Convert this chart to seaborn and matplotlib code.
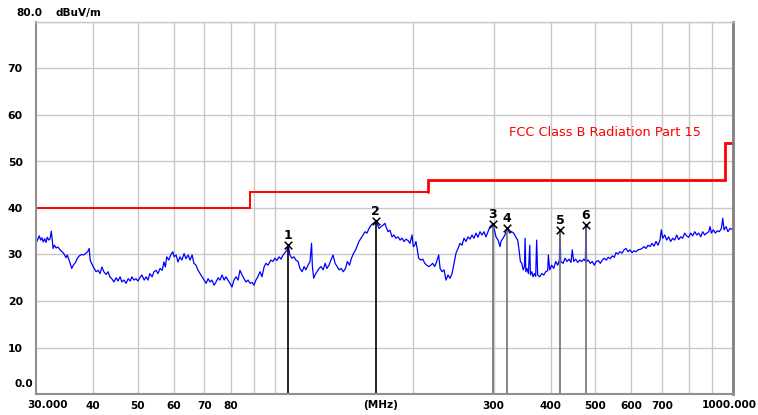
import numpy as np
import pandas as pd
import matplotlib
matplotlib.use("Agg")
import matplotlib.pyplot as plt
from matplotlib.ticker import NullLocator
import seaborn as sns

# Leitura do espectro (MHz, dBuV/m)
trace_mhz = [
    30.0, 30.3, 30.5, 30.7, 30.9, 31.1, 31.35, 31.55, 31.75, 32.0, 32.2, 32.4, 32.7, 32.9,
    33.2, 33.5, 33.8, 34.2, 34.5, 34.9, 35.1, 35.5, 35.9, 36.2, 36.6, 36.9, 37.3, 37.7,
    38.1, 38.5, 38.9, 39.2, 39.4, 39.8, 40.2, 40.6, 41.0, 41.4, 41.8, 42.2, 42.7, 43.1,
    43.5, 44.0, 44.4, 44.9, 45.3, 45.8, 46.2, 46.7, 47.2, 47.7, 48.2, 48.6, 49.1, 49.6,
    50.1, 50.6, 51.1, 51.7, 52.2, 52.7, 53.2, 53.8, 54.3,
    54.9, 55.4, 56.0, 56.6, 57.1, 57.5, 57.9, 58.5, 59.1, 59.7, 60.1, 60.7, 61.3, 61.9,
    62.5, 63.2, 63.8, 64.5, 65.1, 65.8, 66.4, 67.1, 67.8, 68.5, 69.2, 69.9, 70.6, 71.3,
    72.0, 72.7, 73.5, 74.2, 75.0, 75.7, 76.5, 77.3, 78.0, 78.8, 79.6, 80.4, 81.2, 82.1,
    82.9, 83.7, 84.6, 85.4, 86.3, 87.2, 88.1, 89.0, 89.8, 90.7, 91.6, 92.6, 93.5, 94.5,
    95.4, 96.4, 97.3,
    97.8, 98.8, 99.8, 100.8, 101.9, 102.9, 104.0, 105.0, 106.1, 106.7, 107.6, 108.7,
    109.8, 110.9, 112.1, 113.2, 114.4, 115.6, 116.6, 117.9, 119.1, 120.0, 120.5, 121.3,
    122.1, 123.3, 124.6, 125.9, 127.2, 128.5, 129.6, 131.0, 132.3, 133.7, 135.1, 136.5,
    137.9, 139.3, 140.8, 142.3, 143.7, 145.2, 146.7, 148.3, 149.8, 150.8, 152.3, 153.9,
    155.5, 157.1, 158.6, 160.2, 161.9, 163.5, 165.6, 166.8, 168.5, 170.2, 171.9, 173.6,
    174.5, 176.3, 178.1, 179.9, 181.7, 183.5, 185.4, 187.3, 189.2, 191.1, 193.0, 195.0,
    196.9, 198.9, 200.2, 201.6, 202.9, 204.3, 205.7, 207.8, 210.0, 212.1, 214.2, 216.4,
    218.6, 220.8, 223.0, 225.2, 227.5, 229.1, 231.4, 233.7, 236.0, 238.4, 240.8, 243.3,
    245.7, 248.2, 250.7, 253.2, 255.8, 258.4, 261.0, 263.6, 266.3, 269.0, 271.7, 274.4,
    277.2, 280.0, 282.8, 285.7, 288.6, 291.5, 294.5, 298.9, 300.5, 303.5, 306.6, 309.7,
    311.2, 314.3, 317.5, 320.8, 322.8, 325.1, 328.4, 331.8, 335.1, 338.5, 340.8, 343.1,
    345.6, 347.9, 350.2, 351.4, 352.6, 354.7, 357.2, 359.7, 360.9, 363.4, 365.7, 368.1,
    370.6, 372.4, 374.3, 378.2, 382.1, 386.0, 389.8, 393.6, 395.0, 397.7, 401.7, 405.8,
    409.8, 414.0, 417.5, 418.9, 420.3, 425.4, 429.5, 433.8, 438.2, 442.6, 445.5, 448.6,
    453.2, 457.8, 462.5, 467.2, 472.0, 475.8, 477.3, 478.8, 482.8, 487.7, 492.6, 497.6,
    502.6, 507.8, 512.9, 518.2, 523.4, 528.6, 534.0, 539.4, 544.8, 550.4,
    555.0, 560.6, 566.3, 572.1, 577.9, 583.7, 589.6, 595.6, 601.7, 607.7, 613.8, 620.1,
    626.4, 632.7, 639.1, 645.5, 652.1, 658.7, 665.4, 672.1, 678.8, 685.7, 692.6, 697.3,
    702.0, 709.3, 716.3, 723.6, 730.8, 738.2, 745.7, 753.3, 760.9, 768.6, 776.4, 784.2,
    792.2, 800.2, 808.3, 816.5, 824.8, 833.1, 841.6, 850.1, 858.7, 867.4, 876.1, 885.0,
    891.0, 897.0, 906.0, 915.0, 924.3, 933.7, 943.2, 949.6, 956.0, 965.3, 975.0, 984.9,
    995.0, 1000.0,
]
trace_dbuv = [
    32.4, 33.4, 34.0, 33.1, 33.6, 32.7, 33.4, 32.6, 33.7, 33.1, 33.4, 35.0, 31.3, 32.0,
    31.4, 31.6, 31.1, 30.6, 30.2, 29.3, 29.9, 28.6, 27.0, 27.7, 28.3, 29.1, 29.7, 30.0,
    29.9, 30.2, 30.6, 31.3, 28.8, 27.8, 27.0, 26.3, 26.6, 25.9, 27.3, 26.3, 25.7, 26.3,
    25.2, 24.7, 24.1, 25.0, 24.3, 25.2, 24.1, 24.5, 23.8, 24.8, 24.3, 25.2, 24.5, 24.8,
    24.3, 25.0, 25.6, 24.5, 25.2, 24.5, 25.9, 25.2, 26.3,
    26.6, 25.9, 27.0, 26.6, 28.4, 27.3, 29.5, 28.8, 29.9, 30.6, 29.5, 29.9, 28.4, 29.5,
    28.8, 30.2, 29.1, 29.9, 28.8, 29.9, 28.1, 27.7, 26.6, 25.9, 25.2, 24.5, 23.8, 24.8,
    24.1, 24.5, 23.4, 24.1, 25.0, 24.5, 25.6, 24.5, 25.2, 24.5, 23.8, 23.0, 24.5, 25.2,
    24.5, 26.6, 25.6, 24.8, 24.1, 24.5, 23.8, 24.0, 23.4, 24.5, 25.2, 26.3, 25.2, 27.3,
    28.1, 27.7, 28.4,
    28.8, 28.5, 29.2, 28.7, 29.5, 29.0, 29.9, 30.4, 31.0, 32.0, 29.9, 29.2,
    29.5, 28.8, 28.5, 27.0, 26.3, 27.4, 26.7, 27.7, 28.5, 32.4, 27.4, 24.9,
    25.6, 26.3, 27.0, 27.4, 26.7, 28.1, 27.0, 27.7, 28.8, 29.9, 28.1, 27.4,
    26.7, 27.0, 26.3, 27.0, 28.5, 27.7, 29.2, 30.3, 31.0, 31.7, 32.8, 33.5,
    34.2, 34.9, 34.6, 35.6, 36.3, 36.7, 37.1, 36.7, 35.6, 36.0, 36.3, 36.7,
    36.0, 34.9, 35.2, 33.8, 34.2, 33.5, 33.8, 33.1, 33.5, 32.8, 33.3, 33.0,
    32.4, 34.2, 31.7, 32.0, 32.8, 31.0, 29.2, 28.8, 29.0, 28.1, 27.7, 27.4,
    27.7, 28.1, 27.4, 28.5, 29.9, 27.0, 26.3, 26.7, 24.5, 25.6, 24.9, 25.9,
    28.1, 30.3, 31.3, 32.4, 32.0, 33.5, 32.8, 33.8, 33.3, 34.2, 33.5, 34.6,
    33.7, 34.9, 34.2, 34.9, 33.8, 34.9, 36.0, 36.6, 35.6, 33.8, 33.1, 31.7,
    32.8, 33.5, 34.2, 35.7, 35.2, 34.6, 34.9, 34.6, 33.8, 33.1, 31.0, 28.5,
    28.1, 26.7, 27.4, 33.5, 26.3, 27.0, 25.9, 32.0, 25.6, 26.3, 25.2, 25.9,
    25.3, 33.1, 25.6, 25.2, 25.9, 25.6, 26.3, 26.5, 29.9, 26.7, 27.7, 27.0,
    28.5, 27.7, 28.8, 35.3, 28.5, 28.1, 29.2, 28.5, 29.0, 28.3, 31.0, 28.5,
    29.0, 28.3, 28.8, 28.5, 29.0, 28.6, 36.3, 28.5, 28.8, 28.1, 28.5, 27.7,
    28.5, 28.7, 28.1, 28.8, 29.2, 28.8, 29.4, 29.1, 29.7, 29.4,
    30.4, 30.1, 30.6, 30.3, 31.0, 31.3, 30.6, 31.0, 30.4, 30.8, 30.6, 31.0,
    31.1, 31.3, 31.7, 31.3, 32.0, 31.7, 32.4, 31.8, 32.8, 32.0, 33.1, 35.3,
    33.5, 34.2, 33.1, 33.8, 32.8, 33.5, 33.1, 34.2, 33.2, 33.8, 33.5, 34.6,
    34.0, 33.7, 34.6, 34.0, 34.9, 34.2, 34.6, 33.8, 34.9, 34.2, 34.6, 34.9,
    36.0, 34.6, 35.3, 34.6, 35.1, 34.9, 35.6, 37.8, 35.3, 36.0, 34.9, 35.6,
    35.4, 35.6,
]

# Limite FCC Classe B (bordas das faixas e nivel de cada faixa)
limit_edges = [30, 88, 216, 960, 1000]
limit_level = [40, 43.5, 46, 54]
limit_label = "FCC Class B Radiation Part 15"

# Marcadores
marker_no = ["1", "2", "3", "4", "5", "6"]
marker_mhz = [106.7, 165.6, 298.9, 320.8, 418.9, 477.3]
marker_dbuv = [32.0, 37.1, 36.6, 35.7, 35.3, 36.3]

# Grade e rotulos
grid_mhz = [40, 50, 60, 70, 80, 90, 100, 200, 300, 400, 500, 600, 700, 800, 900]
grid_labels = ["40", "50", "60", "70", "80", "", "", "", "300", "400", "500", "600", "700", "", ""]
y_ticks = [0, 10, 20, 30, 40, 50, 60, 70, 80]
y_labels = ["", "10", "20", "30", "40", "50", "60", "70", ""]

W, H = 758, 415
sns.set_style("white")
plt.rcParams["font.family"] = ["DejaVu Sans"]
plt.rcParams["text.color"] = "black"
plt.rcParams["xtick.color"] = "black"
plt.rcParams["ytick.color"] = "black"

fig = plt.figure(figsize=(W / 100, H / 100), dpi=100)
ax = fig.add_axes([36 / W, 21 / H, 697 / W, 372 / H])

# Espectro medido
df = pd.DataFrame({"MHz": trace_mhz, "dBuV/m": trace_dbuv})
sns.lineplot(data=df, x="MHz", y="dBuV/m", color="#0000ff", lw=0.9,
             estimator=None, sort=False, ax=ax)

# Linha de limite em degraus
def band_path(i0, i1):
    xs, ys = [], []
    for i in range(i0, i1):
        xs += [limit_edges[i], limit_edges[i + 1]]
        ys += [limit_level[i], limit_level[i]]
    return xs, ys

xs, ys = band_path(0, 2)
ax.plot(xs, ys, color="#ff0000", lw=1.4, solid_joinstyle="miter")
xs, ys = band_path(2, 4)
ax.plot([limit_edges[2]] + xs, [limit_level[1]] + ys, color="#ff0000", lw=2.0,
        solid_joinstyle="miter")
fig.text(605 / W, 1 - 132 / H, limit_label, color="#ff0000", fontsize=9.3,
         ha="center", va="center")

# Marcadores
line_colors = ["black", "black", "#707070", "#707070", "#707070", "#707070"]
ax.vlines(marker_mhz, 0, marker_dbuv, colors=line_colors, lw=1.2)
sns.scatterplot(x=marker_mhz, y=marker_dbuv, marker="x", color="black", s=30,
                linewidth=1.1, ax=ax, zorder=5)
for n, f, v in zip(marker_no, marker_mhz, marker_dbuv):
    ax.annotate(n, (f, v), xytext=(0, 3), textcoords="offset pixels",
                ha="center", va="bottom", fontsize=9, fontweight="bold")

# Eixos
ax.set_xscale("log")
ax.set_xlim(30, 1000)
ax.set_ylim(0, 80)
ax.set_xticks(grid_mhz, grid_labels)
ax.xaxis.set_minor_locator(NullLocator())
ax.set_yticks(y_ticks, y_labels)
ax.set_xlabel("")
ax.set_ylabel("")
ax.grid(True, color="#c8c8c8", lw=1)
ax.set_axisbelow(True)
ax.tick_params(axis="x", length=0, pad=5, labelsize=7.6)
ax.tick_params(axis="y", length=0, pad=9.5, labelsize=7.8)
for lab in ax.get_xticklabels() + ax.get_yticklabels():
    lab.set_fontweight("bold")

for side in ["left", "bottom"]:
    ax.spines[side].set_color("#909090")
    ax.spines[side].set_linewidth(1.5)
ax.spines["top"].set_color("#c8c8c8")
ax.spines["top"].set_linewidth(1)
ax.spines["right"].set_color("#808080")
ax.spines["right"].set_linewidth(2)

# Rotulos especiais fora da grade
txt = dict(fontsize=7.6, fontweight="bold", va="center", color="black")
fig.text(27 / W, 1 - 405 / H, "30.000", ha="left", **txt)
fig.text(381 / W, 1 - 405 / H, "(MHz)", ha="center", **txt)
fig.text(757 / W, 1 - 405 / H, "1000.000", ha="right", **txt)
fig.text(33 / W, 1 - 384 / H, "0.0", ha="right", **txt)
fig.text(42 / W, 1 - 13 / H, "80.0", ha="right", **txt)
fig.text(55 / W, 1 - 13 / H, "dBuV/m", ha="left", **txt)

fig.savefig("out.png", dpi=100)
